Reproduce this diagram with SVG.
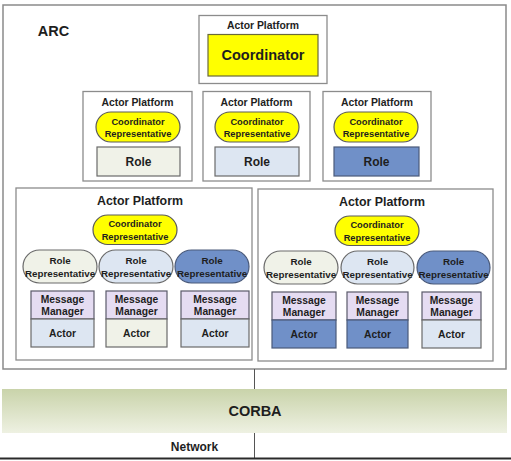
<svg xmlns="http://www.w3.org/2000/svg" width="511" height="461" viewBox="0 0 511 461">
<defs>
<linearGradient id="corbaGrad" x1="0" y1="0" x2="0" y2="1">
<stop offset="0" stop-color="#c9d3aa"/>
<stop offset="1" stop-color="#eef1e2"/>
</linearGradient>
</defs>
<style>
text{font-family:"Liberation Sans",Arial,sans-serif;font-weight:bold;fill:#1e1e1e;text-anchor:middle}
.plat{fill:#ffffff;stroke:#8c8c8c;stroke-width:1.3}
.coord{fill:#ffff00;stroke:#6a6a3a;stroke-width:1.2}
.crep{fill:#ffff00;stroke:#5a5a5a;stroke-width:1.2}
.g{fill:#f0f2e8;stroke:#6a6a6a;stroke-width:1.2}
.lb{fill:#dde6f2;stroke:#6a6a6a;stroke-width:1.2}
.db{fill:#7090c8;stroke:#4a5a7a;stroke-width:1.2}
.mm{fill:#e5dcf2;stroke:#5a5a6a;stroke-width:1.2}
.t10{font-size:10.4px}
.t9{font-size:9.3px}
.t12{font-size:12px}
.rr{font-size:9.8px}
.mt{font-size:10.3px}
.line{stroke:#555;stroke-width:1;fill:none}
</style>

<g id="arc">
<rect x="3" y="5" width="503" height="364" fill="#ffffff" stroke="#8a8a8a" stroke-width="1.5"/>
<text x="53.5" y="36" style="font-size:14.5px">ARC</text>
</g>

<g id="top-platform">
<rect class="plat" x="199" y="15.5" width="128" height="68"/>
<text class="t10" x="263" y="29">Actor Platform</text>
<rect class="coord" x="208" y="34.5" width="110" height="41.5"/>
<text x="263" y="60" style="font-size:14.5px">Coordinator</text>
</g>

<g id="platform-a">
<rect class="plat" x="83" y="91.5" width="109" height="89.5"/>
<text class="t10" x="137.5" y="106">Actor Platform</text>
<rect class="crep" x="96" y="112" width="84" height="30" rx="15"/>
<text class="t9" x="138" y="124.5">Coordinator</text>
<text class="t9" x="138" y="136.5">Representative</text>
<rect class="g" x="97" y="147" width="83" height="29"/>
<text class="t12" x="138.5" y="166">Role</text>
</g>

<g id="platform-b">
<rect class="plat" x="203" y="91.5" width="107" height="89.5"/>
<text class="t10" x="256.5" y="106">Actor Platform</text>
<rect class="crep" x="215" y="112" width="84" height="30" rx="15"/>
<text class="t9" x="257" y="124.5">Coordinator</text>
<text class="t9" x="257" y="136.5">Representative</text>
<rect class="lb" x="215" y="147" width="84" height="29"/>
<text class="t12" x="257" y="166">Role</text>
</g>

<g id="platform-c">
<rect class="plat" x="323" y="91.5" width="108" height="89.5"/>
<text class="t10" x="377" y="106">Actor Platform</text>
<rect class="crep" x="334" y="112" width="84" height="30" rx="15"/>
<text class="t9" x="376" y="124.5">Coordinator</text>
<text class="t9" x="376" y="136.5">Representative</text>
<rect class="db" x="334" y="147" width="85" height="29"/>
<text class="t12" x="376.5" y="166">Role</text>
</g>

<g id="platform-left">
<rect class="plat" x="16" y="188" width="236" height="172"/>
<text x="140" y="205" style="font-size:12.4px">Actor Platform</text>
<rect class="crep" x="93" y="215" width="84" height="29.5" rx="14.75"/>
<text class="t9" x="135" y="227">Coordinator</text>
<text class="t9" x="135" y="239.5">Representative</text>
</g>

<g id="left-role-rep-1">
<rect class="g" x="23" y="250" width="74" height="33" rx="16.5"/>
<text class="rr" x="60" y="264">Role</text>
<text class="rr" x="60" y="276.5">Representative</text>
</g>
<g id="left-role-rep-2">
<rect class="lb" x="99" y="250" width="74" height="33" rx="16.5"/>
<text class="rr" x="136" y="264">Role</text>
<text class="rr" x="136" y="276.5">Representative</text>
</g>
<g id="left-role-rep-3">
<rect class="db" x="175" y="250" width="74" height="33" rx="16.5"/>
<text class="rr" x="212" y="264">Role</text>
<text class="rr" x="212" y="276.5">Representative</text>
</g>

<g id="left-actor-1">
<rect class="mm" x="31" y="291" width="63" height="28"/>
<text class="mt" x="62.5" y="302.5">Message</text>
<text class="mt" x="62.5" y="315">Manager</text>
<rect class="lb" x="31" y="319" width="63" height="28"/>
<text class="mt" x="62.5" y="336.5">Actor</text>
</g>
<g id="left-actor-2">
<rect class="mm" x="106" y="291" width="61" height="28"/>
<text class="mt" x="136.5" y="302.5">Message</text>
<text class="mt" x="136.5" y="315">Manager</text>
<rect class="g" x="106" y="319" width="61" height="28"/>
<text class="mt" x="136.5" y="336.5">Actor</text>
</g>
<g id="left-actor-3">
<rect class="mm" x="181" y="291" width="68" height="28"/>
<text class="mt" x="215" y="302.5">Message</text>
<text class="mt" x="215" y="315">Manager</text>
<rect class="lb" x="181" y="319" width="68" height="28"/>
<text class="mt" x="215" y="336.5">Actor</text>
</g>

<g id="platform-right">
<rect class="plat" x="258" y="189" width="235" height="172"/>
<text x="382" y="206" style="font-size:12.4px">Actor Platform</text>
<rect class="crep" x="335" y="216" width="84" height="29.5" rx="14.75"/>
<text class="t9" x="377" y="228">Coordinator</text>
<text class="t9" x="377" y="240.5">Representative</text>
</g>

<g id="right-role-rep-1">
<rect class="g" x="264" y="251" width="74" height="33" rx="16.5"/>
<text class="rr" x="301" y="265">Role</text>
<text class="rr" x="301" y="277.5">Representative</text>
</g>
<g id="right-role-rep-2">
<rect class="lb" x="341" y="251" width="73" height="33" rx="16.5"/>
<text class="rr" x="377.5" y="265">Role</text>
<text class="rr" x="377.5" y="277.5">Representative</text>
</g>
<g id="right-role-rep-3">
<rect class="db" x="417" y="251" width="73" height="33" rx="16.5"/>
<text class="rr" x="453.5" y="265">Role</text>
<text class="rr" x="453.5" y="277.5">Representative</text>
</g>

<g id="right-actor-1">
<rect class="mm" x="272" y="292" width="64" height="28"/>
<text class="mt" x="304" y="303.5">Message</text>
<text class="mt" x="304" y="316">Manager</text>
<rect class="db" x="272" y="320" width="64" height="28"/>
<text class="mt" x="304" y="337.5">Actor</text>
</g>
<g id="right-actor-2">
<rect class="mm" x="347" y="292" width="61" height="28"/>
<text class="mt" x="377.5" y="303.5">Message</text>
<text class="mt" x="377.5" y="316">Manager</text>
<rect class="db" x="347" y="320" width="61" height="28"/>
<text class="mt" x="377.5" y="337.5">Actor</text>
</g>
<g id="right-actor-3">
<rect class="mm" x="422" y="292" width="59" height="28"/>
<text class="mt" x="451.5" y="303.5">Message</text>
<text class="mt" x="451.5" y="316">Manager</text>
<rect class="lb" x="422" y="320" width="59" height="28"/>
<text class="mt" x="451.5" y="337.5">Actor</text>
</g>

<g id="connectors">
<line class="line" x1="254.5" y1="369" x2="254.5" y2="389"/>
<line class="line" x1="254.5" y1="433" x2="254.5" y2="458"/>
</g>

<g id="corba">
<rect x="2" y="389" width="505" height="44" fill="url(#corbaGrad)"/>
<text x="255" y="416" style="font-size:14.5px">CORBA</text>
</g>

<g id="network">
<text x="194.5" y="451" style="font-size:12px">Network</text>
<line x1="0" y1="458.5" x2="511" y2="458.5" stroke="#2a2a2a" stroke-width="2"/>
</g>
</svg>
